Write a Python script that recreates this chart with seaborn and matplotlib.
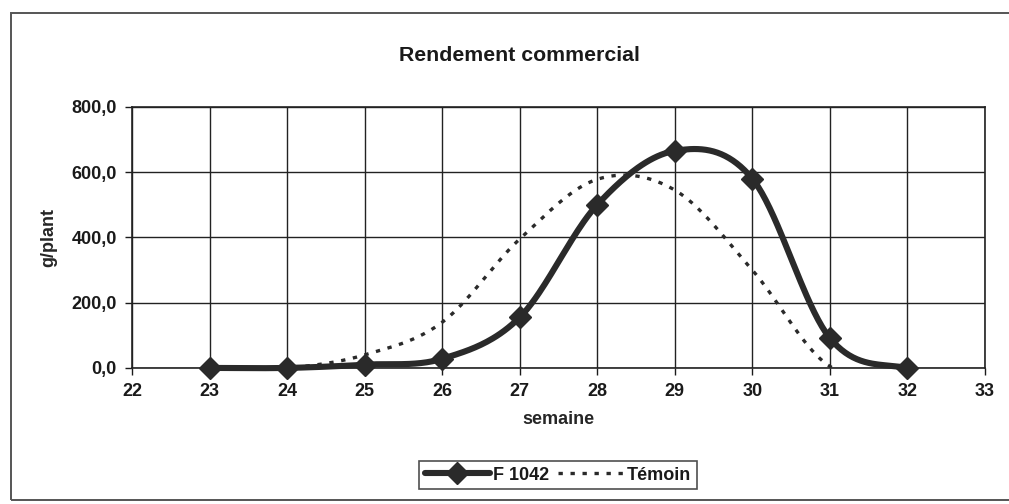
import numpy as np
import pandas as pd
import matplotlib
matplotlib.use('Agg')
import matplotlib.pyplot as plt
from matplotlib.lines import Line2D
from matplotlib.patches import Rectangle
from matplotlib.ticker import FuncFormatter, MultipleLocator
import seaborn as sns

# Data
semaine = [23, 24, 25, 26, 27, 28, 29, 30, 31, 32]
f1042 = [0, 0, 10, 28, 155, 500, 665, 580, 92, 0]
temoin = [0, 0, 40, 140, 395, 578, 545, 300, 5, 0]
series_names = ['F 1042', 'Témoin']


def smooth_curve(x, y, n=40):
    # Catmull-Rom style smoothing, like Excel's "smoothed line" option
    x = np.asarray(x, float)
    y = np.asarray(y, float)
    xs, ys = [], []
    for i in range(len(x) - 1):
        y0 = y[i - 1] if i > 0 else y[i]
        y3 = y[i + 2] if i + 2 < len(y) else y[i + 1]
        m1 = (y[i + 1] - y0) / 2
        m2 = (y3 - y[i]) / 2
        t = np.linspace(0, 1, n, endpoint=False)
        h00 = 2 * t**3 - 3 * t**2 + 1
        h10 = t**3 - 2 * t**2 + t
        h01 = -2 * t**3 + 3 * t**2
        h11 = t**3 - t**2
        xs.append(x[i] + t * (x[i + 1] - x[i]))
        ys.append(h00 * y[i] + h10 * m1 + h01 * y[i + 1] + h11 * m2)
    xs.append([x[-1]])
    ys.append([y[-1]])
    return np.concatenate(xs), np.concatenate(ys)


sns.set_theme(style='white')
plt.rcParams['font.family'] = ['Liberation Sans', 'DejaVu Sans']
plt.rcParams['text.color'] = '#1a1a1a'
plt.rcParams['font.weight'] = 'bold'

fig = plt.figure(figsize=(10.09, 5.04), dpi=100)
ax = fig.add_axes([0.131, 0.270, 0.845, 0.518])

# outer chart frame
fig.patches.append(Rectangle((0.011, 0.008), 1.2, 0.966, transform=fig.transFigure,
                             fill=False, edgecolor='#555555', linewidth=1.4))

line_color = '#2a2a2a'
dot_style = (0, (1.3, 2.3))

xs, ys = smooth_curve(semaine, temoin)
df_t = pd.DataFrame({'semaine': xs, 'val': ys})
sns.lineplot(data=df_t, x='semaine', y='val', ax=ax, sort=False, estimator=None,
             color=line_color, linewidth=2.4, linestyle=dot_style, zorder=3)

xs, ys = smooth_curve(semaine, f1042)
df_f = pd.DataFrame({'semaine': xs, 'val': ys})
sns.lineplot(data=df_f, x='semaine', y='val', ax=ax, sort=False, estimator=None,
             color=line_color, linewidth=4.4, zorder=4)
ax.lines[-1].set_clip_on(False)

ax.plot(semaine, f1042, linestyle='none', marker='D', markersize=11,
        color=line_color, zorder=5, clip_on=False)

ax.set_xlim(22, 33)
ax.set_ylim(0, 800)
ax.xaxis.set_major_locator(MultipleLocator(1))
ax.yaxis.set_major_locator(MultipleLocator(200))
ax.yaxis.set_major_formatter(FuncFormatter(lambda v, p: f'{v:.1f}'.replace('.', ',')))
ax.grid(True, color='#222222', linewidth=1.0)
ax.set_axisbelow(True)
for s in ax.spines.values():
    s.set_color('#222222')
    s.set_linewidth(1.2)

ax.tick_params(axis='both', which='major', labelsize=13, colors='#1a1a1a',
               direction='out', length=5, width=1.0, left=True, bottom=True, pad=6)
for lab in ax.get_xticklabels() + ax.get_yticklabels():
    lab.set_fontweight('bold')
ax.set_xlabel('semaine', fontsize=13, fontweight='bold', labelpad=8)
ax.set_ylabel('g/plant', fontsize=13, fontweight='bold', labelpad=10)

fig.text(0.515, 0.89, 'Rendement commercial', ha='center', va='center',
         fontsize=15.3, fontweight='bold')

handles = [
    Line2D([], [], color=line_color, linewidth=4.4, marker='D', markersize=11),
    Line2D([], [], color=line_color, linewidth=2.4, linestyle=dot_style),
]
leg = fig.legend(handles, series_names, loc='center', bbox_to_anchor=(0.553, 0.057),
                 ncol=2, frameon=True, prop={'size': 13, 'weight': 'bold'},
                 handlelength=3.6, columnspacing=0.5, handletextpad=0.2,
                 borderpad=0.3, fancybox=False, borderaxespad=0)
leg.get_frame().set_edgecolor('#222222')
leg.get_frame().set_linewidth(1.2)

fig.savefig('out.png', dpi=100)
